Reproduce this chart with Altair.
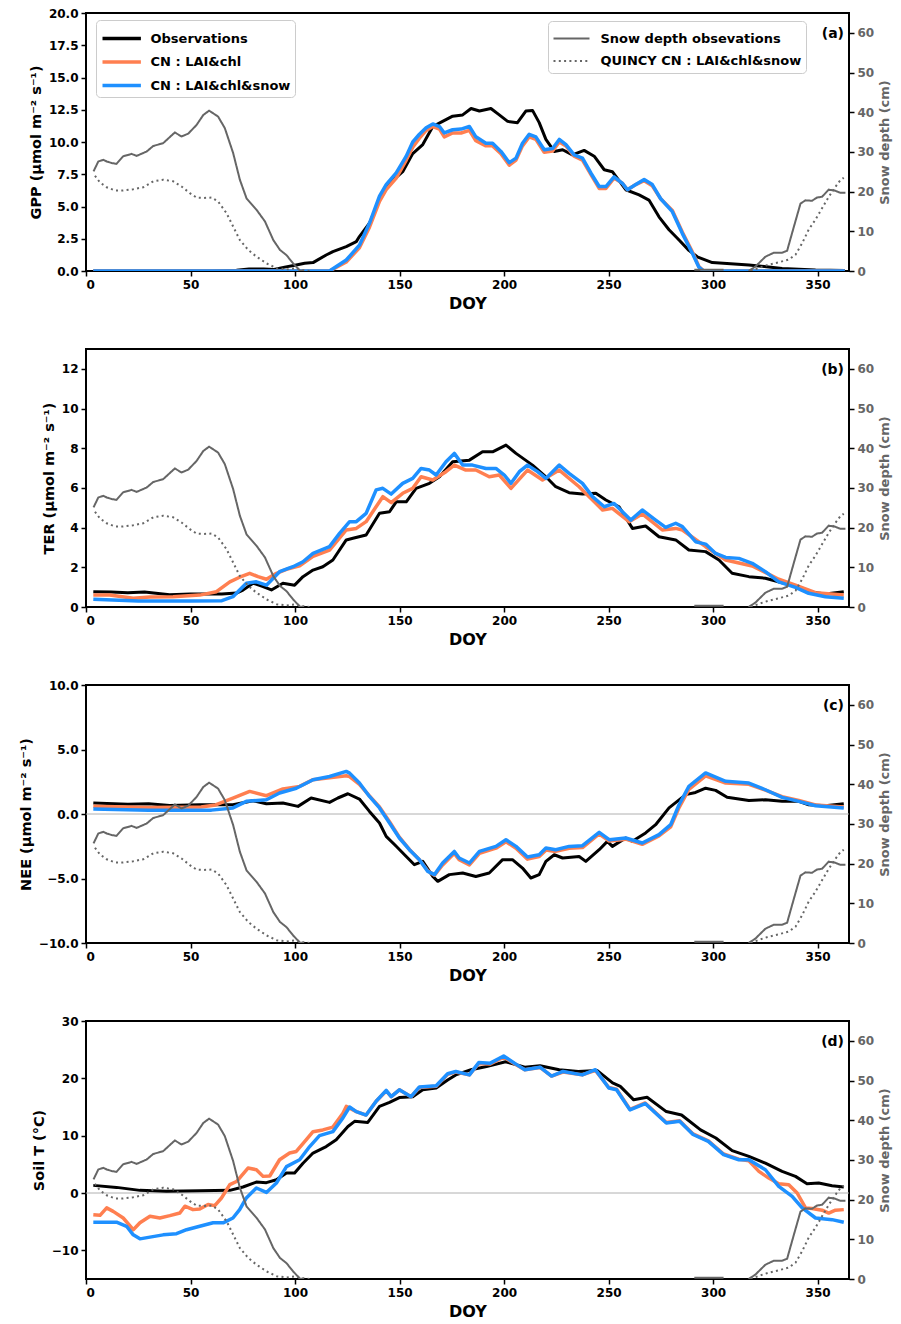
import altair as alt
import pandas as pd

FONT = "DejaVu Sans"
BLACK = "#000000"
ORANGE = "#FF7F50"
BLUE = "#1E90FF"
GRAY = "#666666"

SERIES = ["Observations", "CN : LAI&chl", "CN : LAI&chl&snow"]
SNOW_SERIES = ["Snow depth obsevations", "QUINCY CN : LAI&chl&snow"]

# ---------------- snow depth (same in every panel) ----------------
SNOW_OBS_DAY_1 = [3.6, 5.9, 8.3, 9.9, 12.3, 14.6, 17.8, 21.8, 24.2, 29.0, 32.2, 36.9, 42.5, 45.7, 48.9,
                  52.9, 56.1, 58.9, 63.2, 66.4, 70.4, 73.6, 76.8, 81.6, 85.6, 89.6, 92.8, 95.9, 99.1, 102.3, 104.0]
SNOW_OBS_VAL_1 = [25.1, 27.6, 28.0, 27.6, 27.2, 27.0, 28.9, 29.5, 29.0, 30.1, 31.5, 32.2, 34.9, 33.9, 34.6,
                  36.8, 39.3, 40.4, 38.9, 36.0, 29.7, 23.0, 18.3, 15.4, 12.5, 7.8, 5.3, 4.0, 1.9, 0.1, 0.0]
SNOW_OBS_DAY_2 = [291.0, 305.0]
SNOW_OBS_VAL_2 = [0.3, 0.3]
SNOW_OBS_DAY_3 = [317.0, 320.2, 325.0, 329.0, 333.0, 335.4, 338.6, 341.8, 344.2, 347.3, 349.7, 352.1,
                  355.3, 358.5, 360.9, 363.3]
SNOW_OBS_VAL_3 = [0.0, 1.1, 3.6, 4.6, 4.6, 5.1, 11.1, 17.0, 17.8, 17.7, 18.5, 18.7, 20.5, 20.2, 19.7, 19.7]

SNOW_MOD_DAY_1 = [4.3, 6.7, 9.9, 13.9, 17.8, 22.6, 27.4, 32.2, 36.9, 41.7, 45.7, 49.7, 52.9, 56.1, 60.1,
                  63.2, 67.2, 70.4, 73.6, 77.6, 81.6, 86.4, 91.2, 95.9, 100.7, 103.9, 107.1]
SNOW_MOD_VAL_1 = [24.0, 22.3, 21.1, 20.3, 20.3, 20.6, 21.1, 22.6, 23.0, 22.6, 21.3, 19.6, 18.5, 18.4, 18.5,
                  17.5, 14.6, 11.2, 7.8, 5.3, 3.6, 1.9, 0.7, 0.4, 0.7, 0.2, 0.0]
SNOW_MOD_DAY_2 = [318.0, 321.9, 326.6, 331.4, 336.2, 339.4, 342.6, 345.7, 348.9, 352.1, 355.3, 358.5,
                  360.9, 362.5]
SNOW_MOD_VAL_2 = [0.0, 0.8, 1.6, 2.2, 2.9, 4.1, 7.0, 10.4, 12.9, 15.8, 18.7, 21.2, 22.9, 23.5]

# ---------------- (a) GPP ----------------
GPP_OBS_DAY = [3.5, 30, 60, 72, 78, 85, 90, 95, 100, 104.6, 108.6, 114.9, 118.1, 124.5, 129.3, 130.8, 135.6,
               140.4, 145.2, 151.5, 156.3, 161.1, 165.9, 170.6, 175.4, 180.2, 184.2, 188.2, 193.7, 197.7,
               201.7, 206.4, 210.4, 213.6, 216.8, 220.0, 224.0, 228.0, 232.7, 238.3, 243.1, 247.9, 251.8,
               258.2, 264.6, 269.3, 274.1, 278.9, 283.7, 288.4, 292.4, 299.6, 317.1, 333, 349, 363]
GPP_OBS_VAL = [0, 0, 0, 0.05, 0.15, 0.15, 0.12, 0.3, 0.45, 0.6, 0.65, 1.24, 1.5, 1.89, 2.28, 2.67, 3.7,
               5.5, 6.8, 7.7, 9.1, 9.8, 11.2, 11.6, 12.0, 12.1, 12.6, 12.4, 12.6, 12.1,
               11.6, 11.5, 12.4, 12.45, 11.5, 10.2, 9.27, 9.4, 9.0, 9.35, 8.9, 7.85, 7.7,
               6.3, 5.9, 5.5, 4.2, 3.2, 2.4, 1.6, 1.1, 0.65, 0.47, 0.2, 0.08, 0.03]
GPP_MOD_DAY = [3.5, 116.5, 124.5, 130.8, 135.6, 140.4, 143.6, 148.4, 153.2, 156.3, 159.5, 162.7, 165.9,
               169.1, 171.4, 175.4, 179.4, 183.4, 186.5, 191.3, 194.5, 198.5, 202.5, 205.7, 208.8, 212.0,
               215.2, 219.2, 223.2, 226.4, 229.6, 233.5, 237.5, 241.5, 245.5, 248.7, 252.6, 256.6, 259.0,
               263.0, 267.0, 270.9, 274.9, 280.5, 285.3, 290.0, 293.2, 295.5, 363]
GPP_CHL_VAL = [0, 0, 0.7, 1.8, 3.4, 5.4, 6.3, 7.2, 8.6, 9.6, 10.3, 10.9, 11.2,
               11.0, 10.4, 10.7, 10.7, 10.9, 10.1, 9.7, 9.7, 9.1, 8.2, 8.6, 9.7, 10.4,
               10.2, 9.2, 9.3, 10.0, 9.7, 8.9, 8.6, 7.5, 6.4, 6.4, 7.2, 6.8, 6.3,
               6.7, 7.0, 6.6, 5.6, 4.7, 3.0, 1.5, 0.35, 0, 0]
GPP_SNOW_VAL = [0, 0, 0.85, 2.0, 3.7, 5.8, 6.7, 7.6, 8.9, 10.0, 10.6, 11.1, 11.4,
                11.2, 10.7, 10.95, 11.0, 11.2, 10.4, 9.9, 9.9, 9.27, 8.4, 8.75, 9.9, 10.6,
                10.4, 9.4, 9.5, 10.2, 9.8, 9.0, 8.75, 7.6, 6.55, 6.55, 7.3, 6.8, 6.3,
                6.7, 7.1, 6.7, 5.6, 4.6, 2.9, 1.4, 0.3, 0, 0]

# ---------------- (b) TER ----------------
TER_OBS_DAY = [3.5, 12, 20, 28, 40, 50, 65, 72, 75.1, 79.9, 84.7, 88.7, 94.2, 99.8, 103.8, 108.6, 113.3,
               118.1, 124.5, 127.7, 134.0, 140.4, 145.2, 148.4, 153.2, 157.9, 164.3, 169.1, 175.4, 183.4,
               189.7, 194.5, 200.9, 205.7, 213.6, 220.0, 224.7, 231.1, 237.5, 243.9, 248.7, 255.0, 261.4,
               267.7, 274.1, 282.1, 288.4, 296.4, 302.8, 309.1, 317.1, 325.0, 333.0, 339.4, 345.7, 353.7, 362.5]
TER_OBS_VAL = [0.77, 0.75, 0.72, 0.75, 0.62, 0.65, 0.65, 0.7, 0.85, 1.2, 1.03, 0.86, 1.2, 1.1, 1.53, 1.86, 2.03,
               2.37, 3.38, 3.46, 3.63, 4.72, 4.8, 5.3, 5.3, 5.98, 6.23, 6.56, 7.32, 7.4,
               7.82, 7.82, 8.16, 7.74, 7.15, 6.56, 6.06, 5.76, 5.69, 5.73, 5.39, 5.05, 3.96,
               4.08, 3.54, 3.38, 2.87, 2.79, 2.37, 1.7, 1.53, 1.45, 1.22, 1.06, 0.77, 0.65, 0.77]
TER_CHL_DAY = [3.5, 11.3, 22.6, 30.6, 41.7, 54.4, 62.4, 68.8, 73.5, 78.3, 82.3, 86.3, 91.1, 95.9, 102.2,
               108.6, 116.5, 124.5, 129.3, 134.0, 142.0, 146.0, 151.5, 156.3, 160.3, 165.9, 172.2, 176.2,
               181.7, 186.5, 192.9, 197.7, 203.3, 211.2, 218.4, 226.4, 235.9, 247.1, 251.8, 259.8, 266.1,
               275.7, 282.1, 285.3, 296.4, 306.0, 318.7, 331.4, 339.4, 349.0, 362.5]
TER_CHL_VAL = [0.6, 0.6, 0.44, 0.5, 0.52, 0.6, 0.77, 1.27, 1.5, 1.7, 1.53, 1.4, 1.7, 1.9, 2.07,
               2.55, 2.87, 3.88, 3.96, 4.3, 5.56, 5.26, 5.73, 5.98, 6.56, 6.4, 6.82, 7.15,
               6.9, 6.9, 6.56, 6.65, 5.98, 6.9, 6.4, 6.9, 6.06, 4.89, 4.97, 4.3, 4.69,
               3.88, 3.96, 3.88, 3.04, 2.37, 2.07, 1.4, 1.1, 0.72, 0.6]
TER_SNOW_DAY = [3.5, 25, 50, 65, 70.3, 76.7, 81.5, 86.3, 92.6, 99.0, 103.8, 108.6, 116.5, 121.3, 126.1,
                129.3, 134.0, 138.8, 142.0, 146.0, 151.5, 156.3, 160.3, 164.3, 167.5, 172.2, 176.2, 180.2,
                184.9, 191.3, 196.1, 200.1, 203.3, 207.3, 211.2, 216.0, 220.0, 226.4, 231.1, 237.5, 242.3,
                247.9, 252.6, 256.6, 260.6, 266.1, 272.5, 277.3, 282.1, 285.3, 291.6, 296.4, 301.2, 306.0,
                312.3, 318.7, 325.0, 331.4, 339.4, 345.7, 353.7, 362.5]
TER_SNOW_VAL = [0.39, 0.3, 0.3, 0.32, 0.52, 1.2, 1.27, 1.1, 1.78, 2.03, 2.28, 2.7, 3.04, 3.71, 4.3,
                4.3, 4.72, 5.9, 5.98, 5.69, 6.23, 6.48, 6.98, 6.9, 6.65, 7.32, 7.74, 7.15,
                7.15, 6.98, 6.98, 6.65, 6.23, 6.82, 7.15, 6.82, 6.48, 7.15, 6.73, 6.23, 5.56,
                5.05, 5.22, 4.8, 4.38, 4.89, 4.38, 4.01, 4.22, 4.05, 3.29, 3.17, 2.7, 2.5,
                2.45, 2.2, 1.78, 1.27, 0.99, 0.69, 0.52, 0.44]

# ---------------- (c) NEE ----------------
NEE_OBS_DAY = [3.5, 20, 30, 40, 54.4, 70.3, 79.9, 86.3, 94.2, 101.4, 107.7, 116.5, 120.5, 125.3, 130.8,
               135.6, 140.4, 143.6, 148.4, 153.2, 157.1, 161.1, 165.9, 168.3, 173.8, 180.2, 186.5, 192.9,
               199.3, 204.0, 208.8, 212.8, 216.8, 220.0, 224.0, 228.0, 235.9, 239.1, 245.5, 249.4, 251.8,
               258.2, 261.4, 267.7, 272.5, 278.9, 286.9, 291.6, 296.4, 301.2, 306.7, 309.1, 317.1, 325.0,
               333.0, 341.0, 345.7, 353.7, 362.5]
NEE_OBS_VAL = [0.85, 0.75, 0.8, 0.65, 0.72, 0.72, 1.03, 0.8, 0.85, 0.59, 1.24, 0.9, 1.24, 1.57, 1.16,
               0.2, -0.7, -1.74, -2.5, -3.29, -3.93, -3.67, -4.84, -5.22, -4.7, -4.57, -4.84, -4.57,
               -3.54, -3.54, -4.19, -4.96, -4.7, -3.67, -3.16, -3.41, -3.29, -3.67, -2.77, -2.12, -2.51,
               -1.86, -2.12, -1.47, -0.83, 0.47, 1.5, 1.67, 2.0, 1.83, 1.3, 1.24, 1.05, 1.1,
               0.98, 0.98, 0.72, 0.64, 0.8]
NEE_CHL_DAY = [3.5, 30, 55, 62, 70.3, 78.3, 86.3, 94.2, 102.2, 108.6, 116.5, 124.5, 126.1, 130.8, 135.6,
               140.4, 145.2, 149.9, 154.7, 159.5, 163.5, 166.7, 170.6, 176.2, 178.5, 183.4, 188.2, 196.1,
               200.9, 205.7, 211.2, 216.8, 220.0, 224.7, 231.1, 237.5, 245.5, 250.3, 258.2, 266.1, 274.1,
               279.7, 283.7, 288.4, 296.4, 306.0, 317.1, 325.0, 333.0, 341.0, 349.0, 362.5]
NEE_CHL_VAL = [0.6, 0.5, 0.55, 0.7, 1.24, 1.75, 1.42, 1.94, 2.14, 2.66, 2.8, 2.97, 2.9, 2.3, 1.4,
               0.55, -0.6, -1.8, -2.75, -3.55, -4.4, -4.75, -3.95, -3.05, -3.55, -3.95, -3.05, -2.65,
               -2.15, -2.65, -3.5, -3.3, -2.8, -2.9, -2.65, -2.6, -1.55, -2.1, -1.95, -2.35, -1.7,
               -1.0, 0.5, 1.9, 2.95, 2.4, 2.3, 1.85, 1.35, 1.05, 0.7, 0.55]
NEE_SNOW_DAY = [3.5, 30, 60, 70.3, 76.7, 86.3, 92.6, 100.6, 108.6, 116.5, 124.5, 126.1, 130.8, 135.6,
                140.4, 145.2, 149.9, 154.7, 159.5, 163.5, 166.7, 170.6, 176.2, 178.5, 183.4, 188.2, 196.1,
                200.9, 205.7, 211.2, 216.8, 220.0, 224.7, 231.1, 237.5, 245.5, 250.3, 258.2, 266.1, 274.1,
                279.7, 283.7, 288.4, 296.4, 306.0, 317.1, 325.0, 333.0, 341.0, 349.0, 362.5]
NEE_SNOW_VAL = [0.39, 0.3, 0.3, 0.47, 0.98, 1.1, 1.63, 2.0, 2.66, 2.91, 3.3, 3.17, 2.4, 1.36,
                0.47, -0.7, -1.86, -2.77, -3.54, -4.45, -4.7, -3.8, -2.9, -3.41, -3.8, -2.9, -2.51,
                -1.99, -2.51, -3.33, -3.16, -2.64, -2.77, -2.51, -2.46, -1.42, -1.99, -1.86, -2.25, -1.6,
                -0.83, 0.72, 2.14, 3.18, 2.53, 2.4, 1.88, 1.29, 0.98, 0.64, 0.47]

# ---------------- (d) Soil temperature ----------------
ST_OBS_DAY = [3.5, 14.6, 25.8, 38.5, 54.4, 68.8, 75.1, 81.5, 86.3, 91.1, 95.9, 99.8, 103.8, 108.6, 114.9,
              119.7, 125.3, 128.5, 134.8, 140.4, 145.2, 149.9, 156.3, 161.1, 167.5, 173.0, 176.9, 184.2,
              191.6, 200.7, 209.9, 217.2, 226.4, 235.5, 244.6, 251.9, 255.6, 262.0, 268.4, 277.6, 284.9,
              294.0, 301.3, 309.1, 317.1, 325.0, 333.0, 339.4, 344.9, 350.5, 356.9, 362.5]
ST_OBS_VAL = [1.33, 0.98, 0.46, 0.29, 0.4, 0.46, 1.05, 1.91, 1.8, 2.3, 3.48, 3.48, 5.2, 6.97, 8.1,
              9.3, 11.6, 12.5, 12.3, 15.1, 15.8, 16.65, 16.8, 18.0, 18.3, 19.7, 20.6, 21.5,
              22.05, 22.9, 21.95, 22.2, 21.5, 21.2, 21.35, 19.2, 18.6, 16.25, 16.7, 14.2, 13.6,
              11.0, 9.6, 7.4, 6.4, 5.2, 3.77, 2.9, 1.62, 1.74, 1.27, 1.05]
ST_CHL_DAY = [3.5, 6.7, 9.9, 13.0, 17.8, 22.6, 25.8, 30.6, 35.3, 40.1, 44.9, 47.3, 51.2, 54.4, 58.4, 61.6,
              64.8, 68.8, 72.0, 77.5, 81.5, 84.7, 87.9, 92.6, 97.4, 100.6, 105.4, 108.6, 113.3, 118.1,
              122.9, 124.5, 129.3, 134.0, 138.8, 143.6, 146.0, 149.9, 155.5, 159.5, 167.5, 173.0, 176.9,
              183.4, 187.9, 193.4, 199.8, 206.2, 209.9, 217.2, 222.7, 228.2, 237.4, 243.7, 250.1, 253.8,
              260.2, 267.5, 277.6, 284.0, 290.4, 297.7, 305.0, 312.3, 317.1, 321.9, 326.6, 331.4, 336.2,
              340.2, 344.2, 347.3, 352.1, 355.3, 358.5, 362.5]
ST_CHL_VAL = [-3.8, -3.9, -2.6, -3.2, -4.36, -6.4, -5.2, -4.07, -4.36, -3.95, -3.48, -2.3, -2.9, -2.8, -2.0, -2.2,
              -0.87, 1.45, 2.0, 4.35, 4.06, 2.9, 2.96, 5.8, 6.97, 7.25, 9.3, 10.7, 11.0, 11.5,
              13.9, 15.1, 14.2, 13.6, 16.0, 17.8, 16.8, 18.0, 16.8, 18.4, 18.6, 20.7, 21.1,
              20.6, 22.6, 22.5, 23.7, 22.3, 21.5, 21.9, 20.4, 21.1, 20.6, 21.4, 18.4, 18.1,
              14.6, 15.7, 12.3, 12.6, 10.3, 9.1, 6.8, 5.9, 5.6, 3.77, 2.6, 1.62, 1.45,
              0.0, -2.6, -2.7, -3.0, -3.5, -3.0, -2.9]
ST_SNOW_DAY = [3.5, 14.6, 19.4, 22.6, 25.8, 30.6, 36.9, 43.3, 48.1, 54.4, 60.8, 65.6, 70.3, 73.5, 76.7,
               81.5, 86.3, 91.1, 95.9, 102.2, 107.0, 111.7, 118.1, 122.9, 126.1, 129.3, 134.0, 138.8,
               143.6, 146.0, 149.9, 155.5, 159.5, 167.5, 173.0, 176.9, 183.4, 187.9, 193.4, 199.8, 206.2,
               209.9, 217.2, 222.7, 228.2, 237.4, 243.7, 250.1, 253.8, 260.2, 267.5, 277.6, 284.0, 290.4,
               297.7, 305.0, 312.3, 317.1, 325.0, 331.4, 337.8, 342.6, 349.0, 356.9, 362.5]
ST_SNOW_VAL = [-5.1, -5.1, -5.8, -7.3, -8.0, -7.7, -7.3, -7.1, -6.4, -5.8, -5.2, -5.2, -4.36, -2.9, -0.87,
               0.87, 0.1, 1.74, 4.6, 5.8, 8.1, 10.0, 10.7, 13.1, 15.0, 14.2, 13.6, 16.0,
               17.9, 16.8, 18.0, 16.8, 18.5, 18.7, 20.8, 21.2, 20.6, 22.75, 22.65, 23.9, 22.35,
               21.5, 21.95, 20.4, 21.2, 20.6, 21.5, 18.3, 18.0, 14.5, 15.6, 12.2, 12.5, 10.2,
               9.0, 6.7, 5.8, 5.8, 4.06, 1.16, -0.58, -2.6, -4.36, -4.65, -5.1]

UNIT = " (\u03bcmol m\u207b\u00b2 s\u207b\u00b9)"


def series_df(days, vals, name):
    return pd.DataFrame({"day": days, "value": vals, "series": name})


snow_df = pd.concat([
    pd.DataFrame({"day": SNOW_OBS_DAY_1, "snow": SNOW_OBS_VAL_1, "kind": SNOW_SERIES[0], "seg": "o1"}),
    pd.DataFrame({"day": SNOW_OBS_DAY_2, "snow": SNOW_OBS_VAL_2, "kind": SNOW_SERIES[0], "seg": "o2"}),
    pd.DataFrame({"day": SNOW_OBS_DAY_3, "snow": SNOW_OBS_VAL_3, "kind": SNOW_SERIES[0], "seg": "o3"}),
    pd.DataFrame({"day": SNOW_MOD_DAY_1, "snow": SNOW_MOD_VAL_1, "kind": SNOW_SERIES[1], "seg": "m1"}),
    pd.DataFrame({"day": SNOW_MOD_DAY_2, "snow": SNOW_MOD_VAL_2, "kind": SNOW_SERIES[1], "seg": "m2"}),
], ignore_index=True)

X = alt.X("day:Q", scale=alt.Scale(domain=[0, 365], nice=False, zero=False),
          axis=alt.Axis(values=list(range(0, 351, 50)), format="d", title="DOY", orient="bottom",
                        titleFontSize=16, titlePadding=5))

W, H = 763, 258


def panel(letter, obs, chl, snw, domain, ticks, fmt, title, zero_line, show_legend):
    yaxis = alt.Axis(values=ticks, format=fmt, title=title, orient="left")
    Y = alt.Y("value:Q", scale=alt.Scale(domain=domain, nice=False, zero=False), axis=yaxis)
    if show_legend:
        cleg = alt.Legend(title=None, orient="none", legendX=10, legendY=7, direction="vertical",
                          symbolType="M-1,0H2.2", symbolSize=576, symbolStrokeWidth=3.5,
                          labelOffset=22, padding=4.5, rowPadding=2.5)
    else:
        cleg = None
    C = alt.Color("series:N", scale=alt.Scale(domain=SERIES, range=[BLACK, ORANGE, BLUE]), legend=cleg)
    layers = []
    if zero_line:
        layers.append(alt.Chart(pd.DataFrame({"z": [0]})).mark_rule(color="#b0b0b0", strokeWidth=1)
                      .encode(y=alt.datum(0)))
    for df, sw in ((obs, 3.0), (chl, 3.5), (snw, 3.5)):
        layers.append(alt.Chart(df).mark_line(strokeWidth=sw, clip=True, strokeJoin="round")
                      .encode(x=X, y=Y, color=C))
    left = alt.layer(*layers)

    if show_legend:
        dleg = alt.Legend(title=None, orient="none", legendX=462, legendY=8, direction="vertical",
                          symbolType="M-1,0H2", symbolSize=576, symbolStrokeWidth=2,
                          symbolStrokeColor=GRAY, labelOffset=22, padding=4.5, rowPadding=2.5)
    else:
        dleg = None
    snow = alt.Chart(snow_df).mark_line(strokeWidth=2, clip=True, color=GRAY).encode(
        x=X,
        y=alt.Y("snow:Q", scale=alt.Scale(domain=[0, 65], nice=False, zero=False),
                axis=alt.Axis(orient="right", values=list(range(0, 61, 10)), format="d",
                              title="Snow depth (cm)", labelColor=GRAY, titleColor=GRAY,
                              titleFontSize=13, titleAngle=270, titleBaseline="top", titlePadding=5)),
        strokeDash=alt.StrokeDash("kind:N", scale=alt.Scale(domain=SNOW_SERIES, range=[[1, 0], [2, 3.3]]),
                                  legend=dleg),
        detail="seg:N",
    )
    label = alt.Chart(pd.DataFrame({"t": [letter]})).mark_text(
        font=FONT, fontSize=14, fontWeight="bold", align="right", baseline="middle", color=BLACK
    ).encode(text="t:N", x=alt.value(758), y=alt.value(21))
    return alt.layer(left, snow, label).resolve_scale(y="independent").properties(width=W, height=H)


pa = panel("(a)", series_df(GPP_OBS_DAY, GPP_OBS_VAL, SERIES[0]),
           series_df(GPP_MOD_DAY, GPP_CHL_VAL, SERIES[1]),
           series_df(GPP_MOD_DAY, GPP_SNOW_VAL, SERIES[2]),
           [0, 20], [0, 2.5, 5, 7.5, 10, 12.5, 15, 17.5, 20], ".1f", "GPP" + UNIT, False, True)
pb = panel("(b)", series_df(TER_OBS_DAY, TER_OBS_VAL, SERIES[0]),
           series_df(TER_CHL_DAY, TER_CHL_VAL, SERIES[1]),
           series_df(TER_SNOW_DAY, TER_SNOW_VAL, SERIES[2]),
           [0, 13], [0, 2, 4, 6, 8, 10, 12], "d", "TER" + UNIT, False, False)
pc = panel("(c)", series_df(NEE_OBS_DAY, NEE_OBS_VAL, SERIES[0]),
           series_df(NEE_CHL_DAY, NEE_CHL_VAL, SERIES[1]),
           series_df(NEE_SNOW_DAY, NEE_SNOW_VAL, SERIES[2]),
           [-10, 10], [-10, -7.5, -5, -2.5, 0, 2.5, 5, 7.5, 10], ".1f", "NEE" + UNIT, True, False)
pdd = panel("(d)", series_df(ST_OBS_DAY, ST_OBS_VAL, SERIES[0]),
            series_df(ST_CHL_DAY, ST_CHL_VAL, SERIES[1]),
            series_df(ST_SNOW_DAY, ST_SNOW_VAL, SERIES[2]),
            [-15, 30], [-10, 0, 10, 20, 30], "d", "Soil T (\u00b0C)", True, False)

chart = alt.vconcat(pa, pb, pc, pdd, spacing=78, bounds="flush").resolve_scale(
    x="independent", y="independent", color="independent", strokeDash="independent"
).properties(
    padding={"left": 17, "top": 6, "right": 0, "bottom": 0}
).configure_view(
    stroke=BLACK, strokeWidth=2
).configure_axis(
    labelFont=FONT, labelFontWeight="bold", labelFontSize=12, labelColor=BLACK,
    titleFont=FONT, titleFontWeight="bold", titleFontSize=14.5, titleColor=BLACK,
    tickColor=BLACK, tickWidth=1.5, tickSize=5, domain=False, grid=False,
    labelPadding=3, titlePadding=5,
).configure_legend(
    labelFont=FONT, labelFontWeight="bold", labelFontSize=13, labelColor=BLACK,
    fillColor="white", strokeColor="#cccccc", cornerRadius=4, labelLimit=400,
)

chart.save("out.html", embed_options={"renderer": "svg", "actions": False})
